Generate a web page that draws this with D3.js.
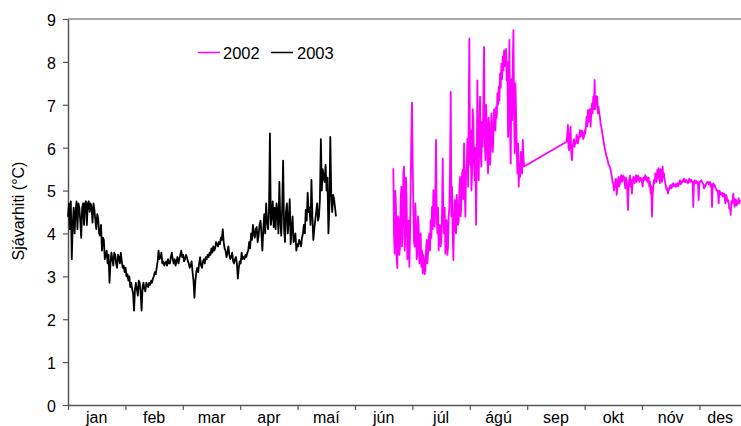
<!DOCTYPE html>
<html><head><meta charset="utf-8">
<script src="https://cdn.jsdelivr.net/npm/d3@7"></script>
<style>body{margin:0;background:#fff}svg{display:block}text{font-family:"Liberation Sans",Arial,sans-serif;fill:#000}</style>
</head><body>
<svg id="c" width="741" height="426"></svg>
<script>
const months = ["jan","feb","mar","apr","maí","jún","júl","ágú","sep","okt","nóv","des"];
const yTicks = [0,1,2,3,4,5,6,7,8,9];
const seriesNames = ["2002","2003"];
const seriesColors = ["#ff00ff","#000000"];
const yTitle = "Sjávarhiti (°C)";

// 2003: readings every half day from 1 Jan (day 0)
const start2003 = 0, step2003 = 0.5;
const temp2003 = [
4.39,4.7,4.1,4.75,3.4,4.2,4.6,4.0,4.5,4.75,4.1,4.7,4.6,4.3,3.9,4.6,4.7,4.2,4.7,4.75,
4.2,4.7,4.75,4.5,4.7,4.6,4.25,4.7,4.55,4.3,4.1,4.45,4.35,4.0,3.95,4.2,3.6,3.9,3.85,3.4,
3.5,3.6,3.3,3.5,2.85,3.3,3.55,3.4,3.25,3.55,3.5,3.3,3.2,3.5,3.45,3.3,3.55,3.35,3.2,3.25,
3.1,3.2,3.0,3.05,2.9,3.0,2.75,2.85,2.7,2.6,2.2,2.7,2.85,2.7,2.55,2.9,2.85,2.6,2.2,2.75,
2.85,2.7,2.65,2.85,2.8,2.75,2.85,2.8,2.9,2.85,2.95,3.0,3.1,3.05,3.2,3.35,3.6,3.4,3.45,3.55,
3.3,3.35,3.25,3.3,3.35,3.25,3.4,3.3,3.3,3.45,3.55,3.4,3.3,3.4,3.25,3.35,3.45,3.3,3.4,3.5,
3.6,3.45,3.5,3.35,3.4,3.5,3.45,3.35,3.3,3.2,3.25,3.35,3.1,2.9,2.5,2.9,3.1,3.2,3.1,3.3,
3.45,3.25,3.2,3.35,3.4,3.3,3.45,3.4,3.5,3.45,3.55,3.5,3.65,3.55,3.7,3.6,3.65,3.8,3.75,3.7,
3.8,3.75,3.9,3.85,4.1,3.8,3.65,3.6,3.45,3.55,3.7,3.5,3.4,3.45,3.55,3.35,3.3,3.4,3.45,3.3,
2.95,3.2,3.35,3.3,3.55,3.4,3.45,3.4,3.5,3.45,3.55,3.6,3.8,3.65,4.0,3.85,4.2,4.0,3.9,4.1,
4.15,3.8,3.95,4.2,4.3,4.0,3.6,4.1,4.45,4.0,4.7,4.3,4.1,4.5,6.33,4.2,4.4,4.75,4.15,4.6,
4.1,4.7,4.5,4.0,5.2,4.3,3.95,4.6,5.7,4.1,3.8,4.5,4.7,4.0,4.35,4.8,3.75,4.1,4.4,3.8,
3.85,4.0,3.6,3.75,3.7,3.85,3.8,3.7,3.9,4.0,4.2,4.0,4.55,4.3,4.95,4.5,4.6,4.2,5.25,4.4,
3.85,4.1,4.3,4.5,4.7,4.3,4.4,4.8,6.2,5.0,5.5,5.3,5.2,5.6,5.0,5.3,4.0,4.6,6.25,4.9,
4.5,4.9,4.8,4.6,4.4];

// 2002: readings every 0.354 day; two records with a gap between them
const start2002a = 172.4, start2002b = 264.2, step2002 = 0.3535;
const temp2002a = [
5.52,4.0,3.53,5.0,4.62,3.4,3.19,4.4,4.31,3.5,3.69,4.8,5.09,3.7,4.16,5.4,5.56,3.6,4.00,5.3,
4.62,3.4,3.53,4.3,3.22,3.9,5.09,6.3,7.05,5.6,4.62,3.8,3.69,4.7,4.23,3.4,3.53,4.4,4.16,3.3,
3.61,4.0,3.22,3.6,3.07,3.5,3.38,3.05,3.15,3.6,3.85,3.3,3.53,3.9,4.00,3.6,4.31,3.9,4.62,4.1,
5.01,4.4,4.16,5.0,6.18,4.4,4.00,4.6,3.61,4.2,4.16,3.7,3.85,4.5,5.75,4.3,4.00,4.6,3.53,4.2,
4.31,3.5,3.69,4.4,4.62,5.6,7.30,4.4,5.09,4.0,3.38,4.3,4.78,4.1,4.00,4.9,4.62,4.2,4.31,5.0,
5.32,4.4,4.78,5.4,5.48,4.8,6.10,5.0,4.39,5.4,5.63,6.2,5.09,6.8,8.55,5.6,6.41,5.0,5.40,6.9,
6.64,5.6,5.24,6.0,4.20,5.6,7.57,6.0,5.24,6.4,7.19,5.8,5.56,6.6,6.02,7.2,8.35,6.2,5.71,7.0,
6.64,5.8,5.40,6.7,6.41,5.6,6.02,6.8,6.49,5.9,6.25,6.9,6.64,6.4,6.95,6.7,7.27,7.0,7.42,7.1,
7.73,7.4,7.96,7.6,8.12,7.8,8.27,7.9,8.20,8.3,7.57,8.0,6.25,7.2,8.51,6.4,5.63,7.6,6.64,7.9,
8.74,6.8,5.87,7.5,6.80,6.0,5.40,6.1,5.09,5.6,5.32,5.9,5.71,5.4,6.18,5.8,5.56];
const temp2002b = [
6.14,6.3,6.53,6.0,5.94,6.3,6.49,5.9,5.71,6.0,6.10,6.2,6.02,6.15,6.10,6.3,6.25,6.1,6.18,6.3,
6.41,6.25,6.29,6.4,6.33,6.2,6.25,6.4,6.33,6.5,6.72,6.5,6.88,6.6,6.76,6.9,6.49,6.8,7.03,6.8,
7.19,6.9,7.58,6.9,7.03,7.2,7.19,6.8,6.95,6.8,6.72,6.55,6.49,6.4,6.29,6.2,6.10,6.0,5.94,5.85,
5.79,5.75,5.67,5.6,5.59,5.55,5.48,5.4,5.32,5.2,5.17,5.0,5.09,5.2,5.28,4.9,5.01,5.25,5.32,5.1,
5.17,5.3,5.36,5.2,5.24,5.35,5.32,5.2,5.05,5.3,5.24,5.0,4.55,5.1,5.24,5.35,5.09,5.25,4.93,5.2,
5.32,5.2,5.17,5.3,5.36,5.2,5.24,5.35,5.32,5.2,5.24,5.3,5.28,5.2,5.09,5.3,5.24,5.3,5.36,5.25,
5.32,5.2,5.28,5.3,5.09,5.2,4.93,5.1,4.39,4.9,5.09,5.25,5.17,5.4,5.32,5.2,5.48,5.3,5.52,5.3,
5.17,5.5,5.36,5.2,5.56,5.3,5.40,5.25,5.17,5.1,5.01,5.05,4.93,5.0,5.05,5.1,5.13,5.05,5.09,5.15,
5.17,5.1,5.13,5.15,5.09,5.15,5.17,5.1,5.13,5.2,5.24,5.15,5.17,5.22,5.20,5.25,5.28,5.2,5.20,5.25,
5.24,5.2,5.17,5.22,5.28,5.2,5.24,5.25,5.20,5.2,4.62,5.2,5.24,5.2,5.17,5.22,5.20,5.15,4.78,5.2,
5.20,5.22,5.24,5.2,5.17,5.15,5.05,5.12,5.09,5.15,5.17,5.2,5.20,5.15,5.17,5.2,5.09,5.15,4.62,5.12,
5.17,5.1,5.13,5.08,5.05,5.0,5.01,4.95,4.70,5.0,4.97,4.9,4.93,4.95,4.86,4.9,4.93,4.85,4.70,4.9,
4.86,4.75,4.78,4.7,4.58,4.6,4.43,4.75,4.70,4.8,4.93,4.7,4.62,4.8,4.78,4.65,4.70,4.75,4.82,4.7,
4.78];

const svg = d3.select("#c");
const L = 68, T = 19, B = 405, R = 741;
const monthW = 57.4;
const x = d3.scaleLinear().domain([0, 365]).range([L, L + 12 * monthW]);
const y = d3.scaleLinear().domain([0, 9]).range([B, T]);
const monthStarts = d3.range(12).map(i => i * 365 / 12);

const pts2003 = temp2003.map((v, i) => ({day: start2003 + i * step2003, v}));
const pts2002 = temp2002a.map((v, i) => ({day: start2002a + i * step2002, v}))
  .concat(temp2002b.map((v, i) => ({day: start2002b + i * step2002, v})));

// top border
svg.append("line").attr("x1", L).attr("x2", R).attr("y1", T).attr("y2", T)
  .attr("stroke", "#8c8c8c").attr("stroke-width", 1.5);

// y axis
const ya = svg.append("g").attr("transform", `translate(${L},0)`)
  .call(d3.axisLeft(y).tickValues(yTicks).tickSize(5).tickSizeOuter(0).tickFormat(d3.format("d")));
ya.select(".domain").attr("stroke", "#555").attr("stroke-width", 1.5);
ya.selectAll(".tick line").attr("stroke", "#555").attr("stroke-width", 1.2);
ya.selectAll(".tick text").attr("x", -12).attr("dy", "0.4em")
  .style("font-size", "16px").style("font-family", '"Liberation Sans",Arial,sans-serif').attr("fill", "#000");

// x axis
const xa = svg.append("g").attr("transform", `translate(0,${B})`)
  .call(d3.axisBottom(x).tickValues(monthStarts).tickSize(5).tickSizeOuter(0).tickFormat(""));
xa.select(".domain").attr("stroke", "#555").attr("stroke-width", 1.5);
xa.selectAll(".tick line").attr("stroke", "#555").attr("stroke-width", 1.2);

// month labels centred on the visible part of each month
svg.append("g").selectAll("text").data(months).join("text")
  .attr("x", (d, i) => (x(monthStarts[i]) + Math.min(R, x(monthStarts[i] + 365 / 12))) / 2)
  .attr("y", 423).attr("text-anchor", "middle").style("font-size", "16px").text(d => d);

// y title
svg.append("text").attr("transform", "translate(23.5,211) rotate(-90)")
  .attr("text-anchor", "middle").style("font-size", "16px").text(yTitle);

// lines
const line = d3.line().x(d => x(d.day)).y(d => y(d.v));
svg.append("path").datum(pts2002).attr("d", line).attr("fill", "none")
  .attr("stroke", seriesColors[0]).attr("stroke-width", 1.8).attr("stroke-linejoin", "round");
svg.append("path").datum(pts2003).attr("d", line).attr("fill", "none")
  .attr("stroke", seriesColors[1]).attr("stroke-width", 1.8).attr("stroke-linejoin", "round");

// legend
const leg = [{x1: 198, tx: 223}, {x1: 271, tx: 297}];
seriesNames.forEach((n, i) => {
  svg.append("line").attr("x1", leg[i].x1).attr("x2", leg[i].x1 + 22).attr("y1", 52.5).attr("y2", 52.5)
    .attr("stroke", seriesColors[i]).attr("stroke-width", 1.5);
  svg.append("text").attr("x", leg[i].tx).attr("y", 59).style("font-size", "16.5px").text(n);
});
</script>
</body></html>
